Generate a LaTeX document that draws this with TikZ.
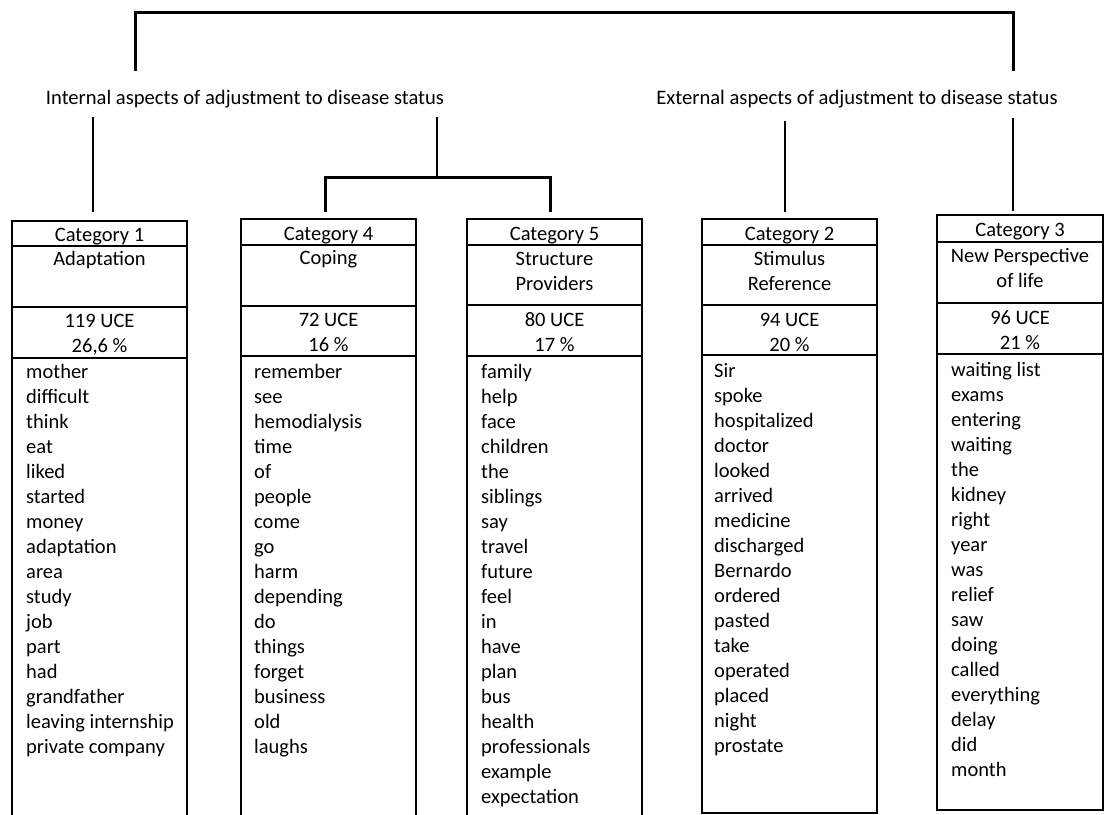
\documentclass[tikz,border=0pt]{standalone}
\usepackage{fontspec}
\setmainfont{Carlito}
\begin{document}
\begin{tikzpicture}[x=1pt,y=-1pt,
  every node/.style={font=\fontsize{20.5}{25}\selectfont},
  cell/.style={draw, line width=1.4pt, rectangle, anchor=north west, inner sep=0pt, outer sep=0pt},
  txt/.style={inner sep=0pt, anchor=base},
  wd/.style={inner sep=0pt, anchor=base west},
  grp/.style={inner sep=0pt, anchor=base, font=\fontsize{20.6}{25}\selectfont},
  bracket/.style={line width=3pt},
  stem/.style={line width=2pt}]
\useasboundingbox (0,0) rectangle (1105,814);
\clip (0,0) rectangle (1105,814);

% ---------- Category 1 ----------
\node[cell, minimum width=175pt, minimum height=25pt] (c1h) at (12,221) {};
\node[cell, minimum width=175pt, minimum height=61pt] (c1n) at (c1h.south west) {};
\node[cell, minimum width=175pt, minimum height=51pt] (c1u) at (c1n.south west) {};
\node[cell, minimum width=175pt, minimum height=480pt] (c1w) at (c1u.south west) {};
\node[txt] (c1ht) at (99.5,241) {Category 1};
\node[txt] (c1nt) at (99.5,265) {Adaptation};
\node[txt] (c1ua) at (99.5,327) {119 UCE};
\node[txt] (c1ub) at (99.5,352) {26,6 \%};
\foreach \w [count=\i from 0] in {mother,difficult,think,eat,liked,started,money,adaptation,area,study,job,part,had,grandfather,leaving internship,private company}
  \node[wd] (c1w\i) at (26,{378+25*\i}) {\w};

% ---------- Category 4 ----------
\node[cell, minimum width=175pt, minimum height=26pt] (c4h) at (241,219) {};
\node[cell, minimum width=175pt, minimum height=61pt] (c4n) at (c4h.south west) {};
\node[cell, minimum width=175pt, minimum height=50pt] (c4u) at (c4n.south west) {};
\node[cell, minimum width=175pt, minimum height=480pt] (c4w) at (c4u.south west) {};
\node[txt] (c4ht) at (328.5,240) {Category 4};
\node[txt] (c4nt) at (328.5,264) {Coping};
\node[txt] (c4ua) at (328.5,326) {72 UCE};
\node[txt] (c4ub) at (328.5,351) {16 \%};
\foreach \w [count=\i from 0] in {remember,see,hemodialysis,time,of,people,come,go,harm,depending,do,things,forget,business,old,laughs}
  \node[wd] (c4w\i) at (254,{378+25*\i}) {\w};

% ---------- Category 5 ----------
\node[cell, minimum width=175pt, minimum height=26pt] (c5h) at (467,219) {};
\node[cell, minimum width=175pt, minimum height=60pt] (c5n) at (c5h.south west) {};
\node[cell, minimum width=175pt, minimum height=51pt] (c5u) at (c5n.south west) {};
\node[cell, minimum width=175pt, minimum height=480pt] (c5w) at (c5u.south west) {};
\node[txt] (c5ht) at (554.5,240) {Category 5};
\node[txt] (c5na) at (554.5,265) {Structure};
\node[txt] (c5nb) at (554.5,290) {Providers};
\node[txt] (c5ua) at (554.5,326) {80 UCE};
\node[txt] (c5ub) at (554.5,351) {17 \%};
\foreach \w [count=\i from 0] in {family,help,face,children,the,siblings,say,travel,future,feel,in,have,plan,bus,health,professionals,example,expectation}
  \node[wd] (c5w\i) at (481,{378+25*\i}) {\w};

% ---------- Category 2 ----------
\node[cell, minimum width=175pt, minimum height=26pt] (c2h) at (702,219) {};
\node[cell, minimum width=175pt, minimum height=60pt] (c2n) at (c2h.south west) {};
\node[cell, minimum width=175pt, minimum height=50pt] (c2u) at (c2n.south west) {};
\node[cell, minimum width=175pt, minimum height=458pt] (c2w) at (c2u.south west) {};
\node[txt] (c2ht) at (789.5,240) {Category 2};
\node[txt] (c2na) at (789.5,265) {Stimulus};
\node[txt] (c2nb) at (789.5,290) {Reference};
\node[txt] (c2ua) at (789.5,326) {94 UCE};
\node[txt] (c2ub) at (789.5,351) {20 \%};
\foreach \w [count=\i from 0] in {Sir,spoke,hospitalized,doctor,looked,arrived,medicine,discharged,Bernardo,ordered,pasted,take,operated,placed,night,prostate}
  \node[wd] (c2w\i) at (714,{377+25*\i}) {\w};

% ---------- Category 3 ----------
\node[cell, minimum width=166pt, minimum height=27pt] (c3h) at (937,215) {};
\node[cell, minimum width=166pt, minimum height=61pt] (c3n) at (c3h.south west) {};
\node[cell, minimum width=166pt, minimum height=51pt] (c3u) at (c3n.south west) {};
\node[cell, minimum width=166pt, minimum height=456pt] (c3w) at (c3u.south west) {};
\node[txt] (c3ht) at (1020,236) {Category 3};
\node[txt] (c3na) at (1020,262) {New Perspective};
\node[txt] (c3nb) at (1020,287) {of life};
\node[txt] (c3ua) at (1020,324) {96 UCE};
\node[txt] (c3ub) at (1020,349) {21 \%};
\foreach \w [count=\i from 0] in {waiting list,exams,entering,waiting,the,kidney,right,year,was,relief,saw,doing,called,everything,delay,did,month}
  \node[wd] (c3w\i) at (951,{376+25*\i}) {\w};

% ---------- Group labels ----------
\node[grp] (int) at (245,104) {Internal aspects of adjustment to disease status};
\node[grp] (ext) at (857,104) {External aspects of adjustment to disease status};

% ---------- Connectors ----------
\coordinate (tl) at (135,71);
\coordinate (tr) at (1013,71);
\coordinate (tm) at (574,12);
\draw[bracket] (tl) |- (tm) -| (tr);

\coordinate (s1a) at (93,117);
\coordinate (s1b) at (93,212);
\draw[stem] (s1a) -- (s1b);

\coordinate (s45a) at (437,117);
\coordinate (s45m) at (437,177);
\draw[stem] (s45a) -- (s45m);
\coordinate (b4) at (325,212);
\coordinate (b5) at (550,212);
\draw[bracket] (b4) |- (s45m) -| (b5);

\coordinate (s2a) at (785,121);
\coordinate (s2b) at (785,212);
\draw[stem] (s2a) -- (s2b);

\coordinate (s3a) at (1013,118);
\coordinate (s3b) at (1013,211);
\draw[stem] (s3a) -- (s3b);
\end{tikzpicture}
\end{document}
